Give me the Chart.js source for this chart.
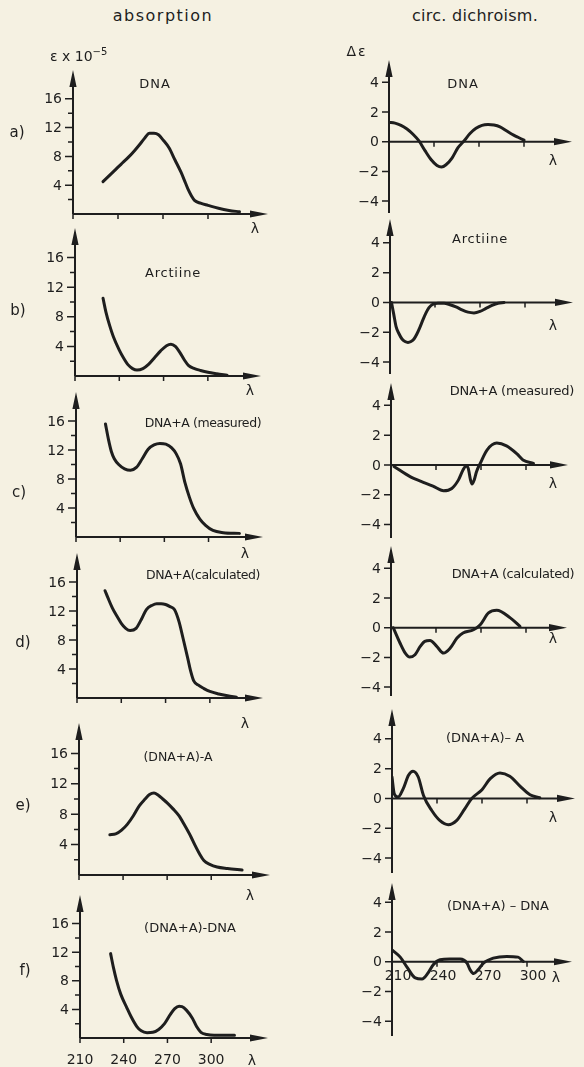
<!DOCTYPE html>
<html>
<head>
<meta charset="utf-8">
<title>absorption / circ. dichroism</title>
<script src="https://cdn.jsdelivr.net/npm/chart.js@4.4.1/dist/chart.umd.min.js"></script>
<style>
  html, body { margin: 0; padding: 0; }
  body {
    width: 584px; height: 1067px; position: relative; overflow: hidden;
    background: #f5f1e2; color: #1e1e1e;
    font-family: "DejaVu Sans", sans-serif;
  }
  canvas { position: absolute; }
  .t { position: absolute; white-space: nowrap; line-height: 1; transform: translate(-50%, -50%); }
  .t.l { transform: translate(0, -50%); }
  sup { font-size: 10px; vertical-align: 6px; line-height: 0; }
</style>
</head>
<body>
<script>
// ============================================
// DATA
// ============================================

// absorption, eps x 1e-5 vs wavelength (nm)
const absDnaNm  = [230, 234, 238, 242, 247, 251, 255, 258, 261, 264, 267, 270, 274, 278, 282, 285, 287, 289, 291, 295, 300, 307, 314, 321];
const absDnaEps = [4.5, 5.3, 6.1, 6.9, 7.9, 8.8, 9.8, 10.6, 11.2, 11.2, 11.0, 10.3, 9.2, 7.5, 5.8, 4.3, 3.3, 2.5, 1.9, 1.5, 1.2, 0.8, 0.5, 0.3];

const absArcNm  = [229, 231, 233.5, 236, 240, 243, 246, 249, 252, 256, 260, 264, 268, 272, 275, 278, 281, 284, 287, 291, 295, 300, 306, 313];
const absArcEps = [10.5, 8.6, 6.8, 5.3, 3.5, 2.4, 1.5, 1.0, 0.8, 1.0, 1.6, 2.5, 3.4, 4.1, 4.3, 4.0, 3.2, 2.2, 1.4, 1.0, 0.75, 0.5, 0.3, 0.1];

const absMeasNm  = [230, 232, 234, 236, 239, 243, 247, 251, 255, 259, 263, 267, 271, 275, 278, 281, 284, 287, 290, 294, 298, 303, 310, 321];
const absMeasEps = [15.6, 13.5, 11.8, 10.8, 10.0, 9.4, 9.2, 9.6, 10.8, 12.1, 12.7, 12.9, 12.8, 12.3, 11.5, 10.1, 7.5, 5.5, 3.9, 2.5, 1.6, 0.9, 0.6, 0.5];

const absCalcNm  = [229, 231, 234, 237, 240, 243, 246, 250, 254, 257, 261, 264, 267, 270, 273, 276, 279, 282, 285, 287, 289, 292, 296, 300, 306, 312, 318];
const absCalcEps = [14.8, 13.8, 12.4, 11.3, 10.3, 9.6, 9.3, 9.6, 11.0, 12.2, 12.8, 13.0, 13.0, 12.9, 12.6, 12.2, 10.6, 8.1, 5.5, 3.7, 2.4, 1.8, 1.3, 0.9, 0.55, 0.3, 0.1];

const absMinusANm  = [231, 235, 239, 243, 247, 251, 255, 258, 261, 264, 267, 270, 274, 278, 282, 286, 289, 292, 295, 299, 304, 311, 321];
const absMinusAEps = [5.3, 5.4, 5.9, 6.7, 7.8, 9.1, 10.0, 10.6, 10.8, 10.5, 10.0, 9.5, 8.7, 7.8, 6.5, 5.1, 3.9, 2.8, 1.9, 1.4, 1.05, 0.85, 0.65];

const absMinusDnaNm  = [231, 233, 235, 238, 242, 245, 249, 252, 256, 260, 264, 268, 272, 275, 278, 280, 283, 287, 290, 293, 297, 302, 309, 316];
const absMinusDnaEps = [11.8, 9.8, 8.1, 6.1, 4.3, 3.0, 1.6, 1.0, 0.75, 0.8, 1.2, 2.0, 3.3, 4.1, 4.45, 4.4, 3.9, 2.8, 1.6, 0.8, 0.5, 0.4, 0.4, 0.4];

// circular dichroism, delta eps vs wavelength (nm)
const cdDnaNm = [210, 214, 218, 222, 226, 230, 234, 238, 242, 245, 248, 252, 256, 260, 264, 268, 272, 276, 280, 284, 288, 292, 296, 300];
const cdDnaDe = [1.3, 1.25, 1.1, 0.85, 0.5, 0.05, -0.6, -1.2, -1.6, -1.7, -1.55, -1.1, -0.4, 0.05, 0.55, 0.9, 1.1, 1.15, 1.12, 1.0, 0.75, 0.5, 0.3, 0.1];

const cdArcNm = [211, 212.5, 214, 216, 218, 220, 222, 224, 226, 228, 230, 232, 234, 236, 238, 242, 246, 250, 254, 258, 262, 266, 270, 274, 278, 282, 286];
const cdArcDe = [0, -0.8, -1.6, -2.1, -2.45, -2.62, -2.68, -2.62, -2.45, -2.1, -1.65, -1.15, -0.7, -0.35, -0.15, -0.05, -0.05, -0.15, -0.3, -0.5, -0.65, -0.7, -0.6, -0.4, -0.2, -0.05, 0];

const cdMeasNm = [212, 223, 230, 238, 245, 250.5, 255, 258, 260, 261.5, 263, 264, 265.5, 267, 269.5, 274, 280.5, 287, 294, 298, 305];
const cdMeasDe = [-0.1, -0.8, -1.1, -1.42, -1.73, -1.58, -1.0, -0.34, -0.07, -0.23, -1.0, -1.28, -1.0, -0.45, 0.11, 1.0, 1.47, 1.28, 0.74, 0.34, 0.11];

const cdCalcNm = [211.5, 216, 219.5, 222.5, 226, 229.5, 232.5, 236, 240.5, 245, 249.5, 254, 258, 265, 269.5, 275, 280.5, 289.5, 296];
const cdCalcDe = [0, -1.03, -1.71, -1.98, -1.82, -1.26, -0.92, -0.86, -1.26, -1.71, -1.37, -0.7, -0.36, -0.14, 0.2, 0.99, 1.17, 0.66, 0.09];

const cdMinusANm = [210, 211.5, 214, 217.5, 221, 224, 227.5, 231, 236.5, 242, 247.5, 253, 258.5, 263, 270, 275.5, 282, 288.5, 295.5, 302, 308.5];
const cdMinusADe = [1.44, 0.32, 0.09, 0.66, 1.55, 1.82, 1.44, 0.2, -0.81, -1.49, -1.76, -1.49, -0.7, -0.02, 0.59, 1.33, 1.71, 1.49, 0.81, 0.25, 0.05];

const cdMinusDnaNm = [210, 215.5, 220, 225.5, 230, 234, 237.5, 242, 248.5, 255.5, 260, 262, 264.5, 267.5, 271, 277.5, 286.5, 294, 297.5];
const cdMinusDnaDe = [0.8, 0.31, -0.36, -1.09, -1.16, -0.76, -0.2, 0.13, 0.18, 0.18, -0.09, -0.53, -0.8, -0.53, -0.09, 0.24, 0.36, 0.31, 0.02];

// ticks
const absTicksY  = [2, 4, 6, 8, 10, 12, 14, 16];
const absLabelsY = [4, 8, 12, 16];
const cdTicksY   = [-4, -2, 0, 2, 4];
const cdLabelsY  = [-4, -2, 0, 2, 4];
const nmTicks    = [210, 240, 270, 300];
const nmLabels   = [210, 240, 270, 300];

// ============================================
// STYLE / LAYOUT
// ============================================

const INK  = '#1e1e1e';
const FONT = '"DejaVu Sans", sans-serif';
const fmt  = (v) => (v < 0 ? '\u2212' + Math.abs(v) : String(v));

// axes, arrows, ticks (positions come from the chart's scales)
function arrowAxes(o) {
  return {
    id: 'arrowAxes',
    beforeDatasetsDraw(chart) {
      const { ctx, scales: { x, y } } = chart;
      const ax   = x.getPixelForValue(x.min);
      const tip  = x.getPixelForValue(x.max);
      const top  = y.getPixelForValue(y.max);
      const bot  = y.getPixelForValue(y.min);
      const base = y.getPixelForValue(0);

      ctx.save();
      ctx.strokeStyle = INK;
      ctx.fillStyle   = INK;
      ctx.lineWidth   = 2;

      ctx.beginPath();
      ctx.moveTo(ax, bot);  ctx.lineTo(ax, top + 10);
      ctx.moveTo(ax, base); ctx.lineTo(tip - 10, base);
      ctx.stroke();

      ctx.beginPath();
      ctx.moveTo(ax, top); ctx.lineTo(ax - 3.6, top + 17); ctx.lineTo(ax + 3.6, top + 17); ctx.closePath();
      ctx.moveTo(tip, base); ctx.lineTo(tip - 18, base - 3.6); ctx.lineTo(tip - 18, base + 3.6); ctx.closePath();
      ctx.fill();

      ctx.lineWidth = 1.5;
      ctx.beginPath();
      o.yTicks.forEach(v => {
        const py  = y.getPixelForValue(v);
        const len = o.yLabels.includes(v) ? o.majorLen : o.minorLen;
        ctx.moveTo(ax - len, py); ctx.lineTo(ax, py);
      });
      o.xTicks.forEach(v => {
        const px = x.getPixelForValue(v);
        ctx.moveTo(px, base); ctx.lineTo(px, base + 5);
      });
      ctx.stroke();

      ctx.font = '14px ' + FONT;
      ctx.textAlign = 'right';
      ctx.textBaseline = 'middle';
      o.yLabels.forEach(v => ctx.fillText(fmt(v), ax - o.labelGap, y.getPixelForValue(v) + 1));

      if (o.xLabels) {
        ctx.textAlign = 'center';
        o.xLabels.forEach(v => ctx.fillText(String(v), x.getPixelForValue(v) + o.xLabelShift, base + o.xLabelDy));
      }
      ctx.restore();
    }
  };
}

const absAxes = (bottom) => ({
  yTicks: absTicksY, yLabels: absLabelsY, xTicks: nmTicks,
  majorLen: 8, minorLen: 5, labelGap: 11,
  xLabels: bottom ? nmLabels : null, xLabelShift: 0, xLabelDy: 22,
});
const cdAxes = (bottom) => ({
  yTicks: cdTicksY, yLabels: cdLabelsY, xTicks: nmTicks.slice(1),
  majorLen: 7, minorLen: 4, labelGap: 10,
  xLabels: bottom ? nmLabels : null, xLabelShift: 6, xLabelDy: 15,
});

// plot boxes in page pixels: left/right = x 210..xmax, top/bottom = y ymax..ymin
const U = 14.9;
const cdBox = (axisX, tipX, zero, ymin, ymax) => ({
  left: axisX, right: tipX, top: zero - ymax * U, bottom: zero - ymin * U,
  xmax: 210 + (tipX - axisX) / 1.5, ymin, ymax,
});

const panels = [
  { left: 73, right: 268, top: 70,  bottom: 214,  xmax: 340, ymin: 0, ymax: 20, nm: absDnaNm,      val: absDnaEps,      axes: absAxes(false) },
  { left: 75, right: 261, top: 228, bottom: 376,  xmax: 336, ymin: 0, ymax: 20, nm: absArcNm,      val: absArcEps,      axes: absAxes(false) },
  { left: 76, right: 263, top: 392, bottom: 537,  xmax: 337, ymin: 0, ymax: 20, nm: absMeasNm,     val: absMeasEps,     axes: absAxes(false) },
  { left: 77, right: 263, top: 553, bottom: 698,  xmax: 336, ymin: 0, ymax: 20, nm: absCalcNm,     val: absCalcEps,     axes: absAxes(false) },
  { left: 79, right: 270, top: 723, bottom: 875,  xmax: 340, ymin: 0, ymax: 20, nm: absMinusANm,   val: absMinusAEps,   axes: absAxes(false) },
  { left: 80, right: 268, top: 895, bottom: 1038, xmax: 339, ymin: 0, ymax: 20, nm: absMinusDnaNm, val: absMinusDnaEps, axes: absAxes(true) },

  { ...cdBox(389, 572, 142, -4.8, 5.5), nm: cdDnaNm,      val: cdDnaDe,      axes: cdAxes(false) },
  { ...cdBox(390, 573, 302, -4.8, 5.6), nm: cdArcNm,      val: cdArcDe,      axes: cdAxes(false) },
  { ...cdBox(391, 568, 465, -4.9, 5.5), nm: cdMeasNm,     val: cdMeasDe,     axes: cdAxes(false) },
  { ...cdBox(391, 567, 628, -4.6, 5.5), nm: cdCalcNm,     val: cdCalcDe,     axes: cdAxes(false) },
  { ...cdBox(392, 575, 798, -5.0, 6.0), nm: cdMinusANm,   val: cdMinusADe,   axes: cdAxes(false) },
  { ...cdBox(392, 572, 962, -5.0, 5.3), nm: cdMinusDnaNm, val: cdMinusDnaDe, axes: cdAxes(true) },
];

// ============================================
// CHARTS
// ============================================

function makePanel(p) {
  const padL = 50, padR = 14, padT = 4, padB = 36;
  const cv = document.createElement('canvas');
  cv.width  = Math.round(p.right - p.left + padL + padR);
  cv.height = Math.round(p.bottom - p.top + padT + padB);
  cv.style.left = (p.left - padL) + 'px';
  cv.style.top  = (p.top - padT) + 'px';
  document.body.appendChild(cv);

  new Chart(cv, {
    type: 'line',
    data: {
      datasets: [{
        data: p.nm.map((x, i) => ({ x, y: p.val[i] })),
        borderColor: INK,
        borderWidth: 3,
        pointRadius: 0,
        fill: false,
        cubicInterpolationMode: 'monotone',
        borderCapStyle: 'round',
        borderJoinStyle: 'round',
      }],
    },
    options: {
      responsive: false,
      animation: false,
      devicePixelRatio: 1,
      events: [],
      layout: { padding: { left: padL, right: padR, top: padT, bottom: padB } },
      scales: {
        x: { type: 'linear', display: false, min: 210, max: p.xmax },
        y: { type: 'linear', display: false, min: p.ymin, max: p.ymax },
      },
      plugins: { legend: { display: false }, tooltip: { enabled: false } },
    },
    plugins: [arrowAxes(p.axes)],
  });
}

panels.forEach(makePanel);

// ============================================
// TEXTS
// ============================================

const texts = [
  ['absorption',        163, 16,  'font-size:16px;letter-spacing:1.5px'],
  ['circ. dichroism.',  475, 16,  'font-size:16px;letter-spacing:0.3px'],
  ['\u0394\u03b5',      357, 51,  'font-size:14px;letter-spacing:2px'],

  ['a)', 17, 132, 'font-size:15px'],
  ['b)', 18, 310, 'font-size:15px'],
  ['c)', 19, 492, 'font-size:15px'],
  ['d)', 23, 642, 'font-size:15px'],
  ['e)', 23, 805, 'font-size:15px'],
  ['f)', 25, 970, 'font-size:15px'],

  ['DNA',                155, 83,  'font-size:13px;letter-spacing:1px'],
  ['Arctiine',           173, 272, 'font-size:13px;letter-spacing:0.8px'],
  ['DNA+A (measured)',   203, 423, 'font-size:12.5px;letter-spacing:-0.4px'],
  ['DNA+A(calculated)',  203, 575, 'font-size:12.5px;letter-spacing:-0.4px'],
  ['(DNA+A)-A',          178, 757, 'font-size:12.5px'],
  ['(DNA+A)-DNA',        190, 927, 'font-size:13px'],

  ['DNA',                463, 83,  'font-size:13px;letter-spacing:1px'],
  ['Arctiine',           480, 238, 'font-size:13px;letter-spacing:0.8px'],
  ['DNA+A (measured)',   512, 390, 'font-size:13px;letter-spacing:-0.2px'],
  ['DNA+A (calculated)', 513, 573, 'font-size:13px;letter-spacing:-0.4px'],
  ['(DNA+A)\u2013 A',    485, 737, 'font-size:13px'],
  ['(DNA+A) \u2013 DNA', 498, 905, 'font-size:13px'],

  ['\u03bb', 255, 228,  'font-size:14px'],
  ['\u03bb', 250, 390,  'font-size:14px'],
  ['\u03bb', 245, 553,  'font-size:14px'],
  ['\u03bb', 245, 723,  'font-size:14px'],
  ['\u03bb', 250, 895,  'font-size:14px'],
  ['\u03bb', 252, 1060, 'font-size:14px'],
  ['\u03bb', 553, 160,  'font-size:14px'],
  ['\u03bb', 553, 325,  'font-size:14px'],
  ['\u03bb', 553, 483,  'font-size:14px'],
  ['\u03bb', 553, 638,  'font-size:14px'],
  ['\u03bb', 553, 817,  'font-size:14px'],
  ['\u03bb', 556, 977,  'font-size:14px'],
];

texts.forEach(([txt, x, y, style]) => {
  const d = document.createElement('div');
  d.className = 't';
  d.textContent = txt;
  d.style.cssText = `left:${x}px;top:${y}px;${style}`;
  document.body.appendChild(d);
});

const eps = document.createElement('div');
eps.className = 't l';
eps.style.cssText = 'left:50px;top:56px;font-size:14px';
eps.innerHTML = '\u03b5 x 10<sup>\u22125</sup>';
document.body.appendChild(eps);
</script>
</body>
</html>
